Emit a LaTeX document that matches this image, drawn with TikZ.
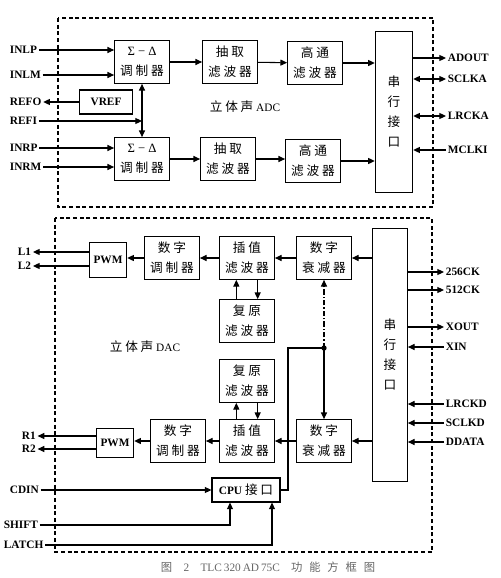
\documentclass[tikz,border=0pt]{standalone}
\usepackage{fontspec}
\setmainfont{Liberation Serif}
\newfontfamily\cjk[LetterSpace=22]{Noto Sans CJK SC}
\usetikzlibrary{arrows.meta}

\begin{document}
\begin{tikzpicture}[
		x=0.75pt, y=-0.75pt,
		line width=0.8pt,
		>={Triangle[length=5pt, width=4.5pt]},
		every node/.style={font=\fontsize{8.5}{15}\selectfont},
		stage/.style={rectangle, draw, align=center, inner sep=0pt, minimum width=41pt, minimum height=32pt, font=\fontsize{9.5}{15}\selectfont\cjk},
		port/.style={rectangle, draw, align=center, inner sep=0pt, font=\fontsize{9.5}{15}\selectfont\cjk},
		pin/.style={inner sep=1pt, font=\fontsize{8.5}{10}\selectfont\bfseries},
		frame/.style={dash pattern=on 3pt off 2pt}
	]
  \useasboundingbox (0,0) rectangle (500,578);
  % stereo ADC
  \draw[frame] (58,18) rectangle (433,207);
  \node (adc_title) at (245,107) {{\cjk\fontsize{9.5}{10}\selectfont 立体声} ADC};
  \node (mod_L) [stage] at (142,62) {{\rmfamily Σ − Δ}\\调制器};
  \node (mod_R) [stage] at (142,159) {{\rmfamily Σ − Δ}\\调制器};
  \node (dec_L) [stage] at (230,62) {抽取\\滤波器};
  \node (dec_R) [stage] at (228,159) {抽取\\滤波器};
  \node (hp_L) [stage] at (315,63) {高通\\滤波器};
  \node (hp_R) [stage] at (313,161) {高通\\滤波器};
  \node (sp_A) [port, minimum width=28pt, minimum height=121pt] at (394,112) {串\\行\\接\\口};
  \node (vref) [rectangle, draw, minimum width=40pt, minimum height=18pt, pin] at (106,102) {VREF};
  \draw[->] (mod_L) -- (dec_L);
  \draw[->] (dec_L) -- (hp_L);
  \draw[->] (hp_L.east) -- (hp_L.east -| sp_A.west);
  \draw[->] (mod_R) -- (dec_R);
  \draw[->] (dec_R.east) -- (dec_R.east -| hp_R.west);
  \draw[->] (hp_R.east) -- (hp_R.east -| sp_A.west);
  \draw[<->] (mod_L) -- (mod_R);
  \node (inlp) [pin, anchor=west] at (8,50) {INLP};
  \node (inlm) [pin, anchor=west] at (8,75) {INLM};
  \node (refo) [pin, anchor=west] at (8,102) {REFO};
  \node (refi) [pin, anchor=west] at (8,121) {REFI};
  \node (inrp) [pin, anchor=west] at (8,148) {INRP};
  \node (inrm) [pin, anchor=west] at (8,167) {INRM};
  \draw[->] (inlp) -- (inlp -| mod_L.west);
  \draw[->] (inlm) -- (inlm -| mod_L.west);
  \draw[->] (vref) -- (refo);
  \draw[->] (refi) -- (refi -| mod_L.south);
  \draw[->] (inrp) -- (inrp -| mod_R.west);
  \draw[->] (inrm) -- (inrm -| mod_R.west);
  \node (adout) [pin, anchor=west] at (446,58) {ADOUT};
  \node (sclka) [pin, anchor=west] at (446,79) {SCLKA};
  \node (lrcka) [pin, anchor=west] at (446,116) {LRCKA};
  \node (mclki) [pin, anchor=west] at (446,150) {MCLKI};
  \draw[->] (adout -| sp_A.east) -- (adout);
  \draw[<->] (sclka -| sp_A.east) -- (sclka);
  \draw[<->] (lrcka -| sp_A.east) -- (lrcka);
  \draw[->] (mclki) -- (mclki -| sp_A.east);
  % stereo DAC
  \draw[frame] (55,218) rectangle (432,552);
  \node (dac_title) at (145,347) {{\cjk\fontsize{9.5}{10}\selectfont 立体声} DAC};
  \node (sp_D) [port, minimum width=26pt, minimum height=190pt] at (390,355) {串\\行\\接\\口};
  \node (att_T) [stage] at (324,258) {数字\\衰减器};
  \node (int_T) [stage] at (247,258) {插值\\滤波器};
  \node (dm_T) [stage] at (172,258) {数字\\调制器};
  \node (pwm_T) [rectangle, draw, minimum width=28pt, minimum height=26pt, pin] at (108,260) {PWM};
  \node (rs_T) [stage] at (247,321) {复原\\滤波器};
  \node (rs_B) [stage] at (247,381) {复原\\滤波器};
  \node (int_B) [stage] at (247,441) {插值\\滤波器};
  \node (dm_B) [stage] at (178,441) {数字\\调制器};
  \node (pwm_B) [rectangle, draw, minimum width=28pt, minimum height=22pt, pin] at (115,443) {PWM};
  \node (att_B) [stage] at (324,441) {数字\\衰减器};
  \node (cpu) [rectangle, draw, minimum width=51pt, minimum height=18pt, pin] at (246,490) {CPU {\cjk\mdseries\fontsize{9.5}{10}\selectfont 接口}};
  \draw[->] (sp_D.west |- att_T) -- (att_T);
  \draw[->] (att_T) -- (int_T);
  \draw[->] (int_T) -- (dm_T);
  \draw[->] (dm_T.west) -- (dm_T.west -| pwm_T.east);
  \draw[->] ([xshift=-8pt]rs_T.north) -- ([xshift=-8pt]int_T.south);
  \draw[->] ([xshift=8pt]int_T.south) -- ([xshift=8pt]rs_T.north);
  \draw[->] ([xshift=-8pt]int_B.north) -- ([xshift=-8pt]rs_B.south);
  \draw[->] ([xshift=8pt]rs_B.south) -- ([xshift=8pt]int_B.north);
  \draw[->] (sp_D.west |- att_B) -- (att_B);
  \draw[->] (att_B) -- (int_B);
  \draw[->] (int_B) -- (dm_B);
  \draw[->] (dm_B.west) -- (dm_B.west -| pwm_B.east);
  \node (l1) [pin, anchor=west] at (16,252) {L1};
  \node (l2) [pin, anchor=west] at (16,266) {L2};
  \node (r1) [pin, anchor=west] at (20,436) {R1};
  \node (r2) [pin, anchor=west] at (20,449) {R2};
  \draw[->] (pwm_T.west |- l1) -- (l1);
  \draw[->] (pwm_T.west |- l2) -- (l2);
  \draw[->] (pwm_B.west |- r1) -- (r1);
  \draw[->] (pwm_B.west |- r2) -- (r2);
  \node (ck256) [pin, anchor=west] at (444,272) {256CK};
  \node (ck512) [pin, anchor=west] at (444,290) {512CK};
  \node (xout) [pin, anchor=west] at (444,327) {XOUT};
  \node (xin) [pin, anchor=west] at (444,347) {XIN};
  \node (lrckd) [pin, anchor=west] at (444,404) {LRCKD};
  \node (sclkd) [pin, anchor=west] at (444,423) {SCLKD};
  \node (ddata) [pin, anchor=west] at (444,442) {DDATA};
  \draw[->] (ck256 -| sp_D.east) -- (ck256);
  \draw[->] (ck512 -| sp_D.east) -- (ck512);
  \draw[->] (xout -| sp_D.east) -- (xout);
  \draw[->] (xin) -- (xin -| sp_D.east);
  \draw[->] (lrckd) -- (lrckd -| sp_D.east);
  \draw[->] (sclkd) -- (sclkd -| sp_D.east);
  \draw[->] (ddata) -- (ddata -| sp_D.east);
  % CPU control path
  \coordinate (tap) at (324,348);
  \coordinate (bend) at (288,348);
  \fill (tap) circle[radius=2pt];
  \draw[->, dash pattern=on 4pt off 1.5pt on 1pt off 1.5pt] (tap) -- (att_T);
  \draw[->] (tap) -- (att_B);
  \draw (cpu.east) -| (bend) -- (tap);
  \node (cdin) [pin, anchor=west] at (8,490) {CDIN};
  \node (shift_in) [pin, anchor=west] at (2,525) {SHIFT};
  \node (latch_in) [pin, anchor=west] at (2,545) {LATCH};
  \draw[->] (cdin) -- (cpu);
  \draw[->] (shift_in) -| ([xshift=-12pt]cpu.south);
  \draw[->] (latch_in) -| ([xshift=19.5pt]cpu.south);
  \node (caption) [text=black!60, font=\fontsize{8.5}{10}\selectfont] at (268,567) {{\cjk 图}\quad 2\quad TLC\,320\,AD\,75C\quad {\cjk\addfontfeature{LetterSpace=60}功能方框图}};
\end{tikzpicture}
\end{document}
